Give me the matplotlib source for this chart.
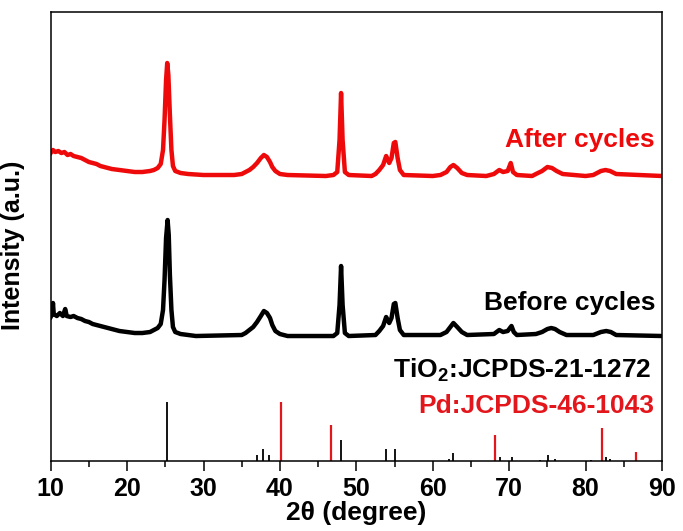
import matplotlib
matplotlib.use("Agg")
import matplotlib.pyplot as plt
import numpy as np

plt.rcParams['font.family'] = ['Liberation Sans', 'DejaVu Sans']
plt.rcParams['font.weight'] = 'bold'
plt.rcParams['mathtext.fontset'] = 'custom'
plt.rcParams['mathtext.rm'] = 'Liberation Sans:bold'
plt.rcParams['mathtext.bf'] = 'Liberation Sans:bold'

# --- XRD pattern after cycling (2theta in degree, intensity in a.u., offset included)
after_2theta = [10.0, 10.3, 10.6, 11.0, 11.4, 11.8, 12.2, 12.6, 13.0, 13.5, 14.0, 14.5,
                15.0, 15.5, 16.0, 16.5, 17.0, 17.5, 18.0, 19.0, 20.0, 21.0, 22.0, 23.0,
                23.5, 24.0, 24.4, 24.7, 24.9, 25.1, 25.25, 25.4, 25.6, 25.8, 26.0, 26.3,
                27.0, 28.0, 30.0, 34.0, 35.0, 35.5, 36.0, 36.5, 37.0, 37.5, 37.9, 38.3,
                38.7, 39.0, 39.4, 40.0, 41.0, 46.0, 47.0, 47.5, 47.8, 48.0, 48.2, 48.5,
                49.0, 52.0, 52.5, 53.0, 53.5, 53.9, 54.3, 54.6, 54.9, 55.1, 55.4, 55.7,
                56.2, 60.0, 61.0, 61.8, 62.3, 62.7, 63.2, 63.8, 64.5, 67.0, 68.0, 68.7,
                69.2, 69.8, 70.2, 70.5, 71.0, 73.0, 73.5, 74.3, 75.0, 75.6, 76.2, 77.0,
                80.0, 81.0, 82.0, 82.6, 83.2, 84.0, 90.0]
after_int = [308, 311, 309, 310, 308, 309, 306, 307, 305, 304, 303, 301,
             299, 298, 297, 295, 294, 293, 292, 291, 290, 289, 289, 290,
             291, 293, 297, 311, 341, 381, 398, 386, 346, 311, 295, 290,
             288, 287, 286, 286, 287, 289, 291, 294, 298, 303, 306, 304,
             299, 294, 290, 287, 286, 285, 286, 289, 321, 368, 321, 289,
             286, 285, 287, 291, 296, 305, 298, 303, 318, 319, 303, 291,
             286, 285, 286, 289, 294, 296, 293, 288, 286, 285, 287, 291,
             289, 290, 298, 289, 286, 285, 287, 290, 294, 293, 290, 287,
             285, 286, 290, 291, 290, 287, 285]

# --- XRD pattern before cycling
before_2theta = [10.0, 10.2, 10.3, 10.4, 10.8, 11.2, 11.6, 11.9, 12.1, 12.6, 13.0, 13.5,
                 14.0, 14.5, 15.0, 15.5, 16.0, 16.5, 17.0, 17.5, 18.0, 19.0, 20.0, 21.0,
                 22.0, 23.0, 23.5, 24.0, 24.4, 24.7, 24.9, 25.1, 25.3, 25.45, 25.6, 25.8,
                 26.0, 26.3, 27.0, 28.0, 29.0, 35.0, 35.5, 36.0, 36.5, 37.0, 37.5, 37.9,
                 38.3, 38.7, 39.0, 39.4, 40.0, 41.0, 47.0, 47.5, 47.8, 48.0, 48.2, 48.5,
                 49.0, 52.5, 53.0, 53.5, 53.9, 54.3, 54.6, 54.9, 55.1, 55.4, 55.7, 56.2,
                 61.0, 61.8, 62.3, 62.7, 63.2, 63.8, 64.5, 68.0, 68.7, 69.2, 69.8, 70.3,
                 70.6, 71.0, 73.5, 74.3, 75.0, 75.5, 76.0, 76.6, 77.5, 81.0, 82.0, 82.7,
                 83.3, 84.0, 90.0]
before_int = [144, 147, 158, 147, 145, 148, 145, 152, 145, 144, 145, 143,
              142, 140, 139, 137, 136, 135, 134, 133, 132, 130, 129, 128,
              128, 129, 131, 133, 137, 151, 181, 223, 241, 226, 186, 151,
              134, 129, 127, 126, 125, 126, 128, 131, 134, 139, 145, 150,
              148, 143, 136, 130, 127, 125, 125, 128, 156, 195, 156, 128,
              125, 126, 130, 135, 144, 138, 143, 157, 158, 143, 131, 126,
              126, 129, 134, 138, 134, 129, 126, 127, 131, 129, 130, 135,
              129, 126, 127, 129, 132, 133, 132, 129, 126, 126, 129, 130,
              129, 126, 125]

# --- Reference patterns (relative intensity, %)
tio2_2theta = [25.28, 36.95, 37.80, 38.58, 48.05, 53.89, 55.06, 62.12, 62.69, 68.76,
               70.31, 74.03, 75.03, 76.02, 80.73, 82.66, 83.15]
tio2_int = [100, 10, 20, 10, 35, 20, 20, 4, 14, 6, 6, 2, 10, 4, 2, 6, 4]
pd_2theta = [40.12, 46.66, 68.12, 82.10, 86.62]
pd_int = [100, 61, 44, 56, 15]

x_ticks = [10, 20, 30, 40, 50, 60, 70, 80, 90]

RED = '#ee0a0a'
STICK_SCALE = 0.59

fig = plt.figure(figsize=(6.83, 5.31), dpi=100)
ax = fig.add_axes([0.0742, 0.1318, 0.8951, 0.8456])

ax.plot(after_2theta, after_int, color=RED, lw=3.2, solid_joinstyle='round')
ax.plot(before_2theta, before_int, color='black', lw=3.2, solid_joinstyle='round')

ax.vlines(tio2_2theta, 0, np.array(tio2_int) * STICK_SCALE, color='black', lw=1.3)
ax.vlines(pd_2theta, 0, np.array(pd_int) * STICK_SCALE, color='#e3161c', lw=1.6)

ax.set_xlim(10, 90)
ax.set_ylim(0, 449)
ax.set_xticks(x_ticks)
ax.set_xticks(np.arange(15, 90, 10), minor=True)
ax.set_yticks([])
ax.tick_params(axis='x', which='major', direction='out', length=7.2, width=1.1,
               labelsize=18, pad=4)
ax.tick_params(axis='x', which='minor', direction='out', length=4.3, width=1.1)
for lab in ax.get_xticklabels():
    lab.set_fontweight('bold')
for sp in ax.spines.values():
    sp.set_linewidth(1.1)

ax.set_xlabel('2θ (degree)', fontsize=19, fontweight='bold', labelpad=0)
ax.set_ylabel('Intensity (a.u.)', fontsize=18, fontweight='bold')
ax.yaxis.set_label_coords(-0.042, 0.481)

ax.text(89.0, 314, 'After cycles', color=RED, fontsize=19, fontweight='bold',
        ha='right', va='baseline')
ax.text(89.1, 151, 'Before cycles', color='black', fontsize=19, fontweight='bold',
        ha='right', va='baseline')
ax.text(88.6, 84, r'TiO$_2$:JCPDS-21-1272', color='black', fontsize=19,
        fontweight='bold', ha='right', va='baseline')
ax.text(89.0, 48, 'Pd:JCPDS-46-1043', color='#e3161c', fontsize=19,
        fontweight='bold', ha='right', va='baseline')

fig.savefig('out.png', dpi=100)
